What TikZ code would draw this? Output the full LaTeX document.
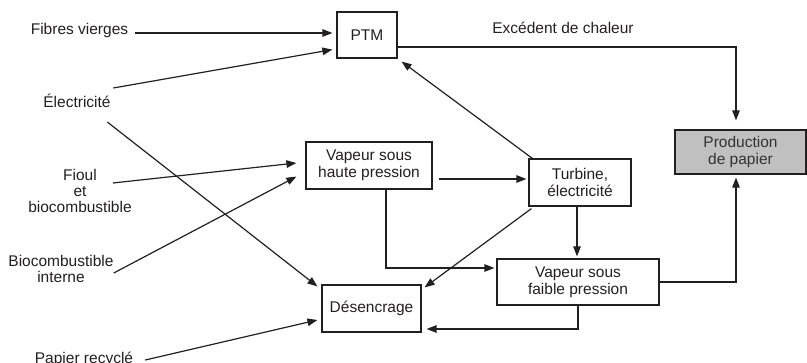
\documentclass[tikz,border=0pt]{standalone}
\usepackage{fontspec}
\setmainfont{Liberation Sans}
\usepackage{xcolor}
\usetikzlibrary{arrows.meta}

\definecolor{trazo}{HTML}{231F20}
\definecolor{gris}{HTML}{C0C0C0}
\definecolor{textogris}{HTML}{333333}

\tikzset{
    caja/.style={draw=trazo, line width=1.2pt, align=center, inner sep=0pt,
        text=trazo, font=\fontsize{15.5}{17}\selectfont},
    etiqueta/.style={inner sep=0pt, align=center, text=trazo,
        font=\fontsize{15.5}{16}\selectfont},
    flecha/.style={draw=trazo, line width=1.2pt, -{Triangle[length=10pt,width=7.5pt]}}
}

\begin{document}
\begin{tikzpicture}[x=1pt,y=-1pt]
            \useasboundingbox (0,0) rectangle (807,363);

            % Cajas del proceso
            \node[caja, minimum width=60pt, minimum height=46pt] (ptm) at (367,35) {PTM};
            \node[caja, minimum width=126pt, minimum height=47pt] (vhp) at (369,165.5) {Vapeur sous\\haute pression};
            \node[caja, minimum width=102pt, minimum height=47pt] (turb) at (580,182.5) {Turbine,\\électricité};
            \node[caja, minimum width=162pt, minimum height=46pt] (vfp) at (578,282) {Vapeur sous\\faible pression};
            \node[caja, minimum width=99pt, minimum height=47pt] (des) at (371.5,308.5) {Désencrage};
            \node[caja, fill=gris, text=textogris, minimum width=131pt, minimum height=44pt] (prod) at (740.5,152) {Production\\de papier};

            % Entradas a la izquierda
            \node[etiqueta] (fv) at (79.5,30) {Fibres vierges};
            \node[etiqueta] (elec) at (77,101) {Électricité};
            \node[etiqueta] (fioul) at (80,191) {Fioul\\et\\biocombustible};
            \node[etiqueta] (bci) at (61,269) {Biocombustible\\interne};
            \node[etiqueta, anchor=base] (pap) at (84,363.5) {Papier recyclé};
            \node[etiqueta] (exc) at (563,28) {Excédent de chaleur};

            % Flechas de las entradas
            \draw[flecha, shorten >=4pt] ([xshift=7pt,yshift=-3pt]fv.east) -- ([yshift=-3pt]fv.east -| ptm.west);
            \draw[flecha] ([xshift=2.5pt,yshift=13pt]elec.east) -- ([xshift=-4pt,yshift=9pt]ptm.south west);
            \draw[flecha] ([xshift=-3.5pt,yshift=-21pt]elec.east) -- ([xshift=-4pt,yshift=-2pt]des.north west);
            \draw[flecha] ([xshift=-19pt,yshift=8pt]fioul.east) -- ([xshift=-9pt,yshift=2.5pt]vhp.west);
            \draw[flecha] ([yshift=-4pt]bci.east) -- ([xshift=-9pt,yshift=13pt]vhp.south west);
            \draw[flecha] ([xshift=12pt,yshift=3.5pt]pap.base east) -- ([xshift=-4pt,yshift=-11.5pt]des.west);

            % Flechas entre las cajas
            \draw[flecha, shorten >=9pt] ([yshift=-12pt]ptm.east) -| ([xshift=-4.5pt]prod.north);
            \draw[flecha] ([xshift=4pt]turb.north west) -- ([xshift=4pt,yshift=-3pt]ptm.south east);
            \draw[flecha] ([xshift=6pt,yshift=-13.5pt]vhp.east) -- ([xshift=-2pt,yshift=3.5pt]turb.west);
            \draw[flecha] ([xshift=17pt]vhp.south) |- ([xshift=-2pt,yshift=14pt]vfp.west);
            \draw[flecha, shorten >=2pt] ([xshift=-3pt]turb.south) -- ([xshift=-3pt]turb.south |- vfp.north);
            \draw[flecha] ([xshift=3pt,yshift=-2pt]turb.south west) -- ([xshift=3pt,yshift=-3pt]des.north east);
            \draw[flecha, shorten >=3pt] (vfp.east) -| ([xshift=-4.5pt]prod.south);
            \draw[flecha] (vfp.south) |- ([xshift=5pt,yshift=-20.5pt]des.east);
\end{tikzpicture}
\end{document}
